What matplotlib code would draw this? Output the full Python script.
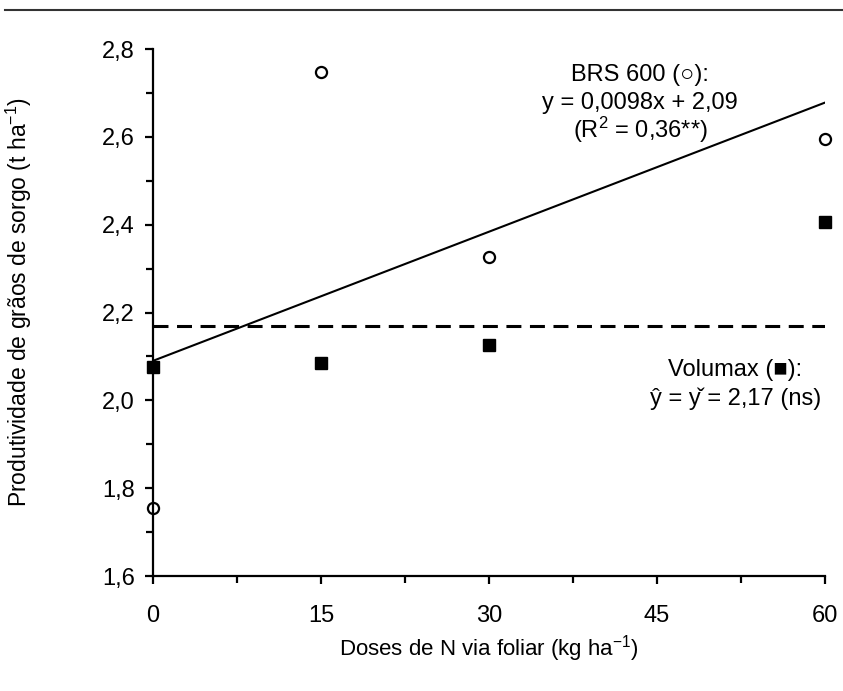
import numpy as np
import matplotlib
matplotlib.use('Agg')
from matplotlib import pyplot as plt
from matplotlib.lines import Line2D
from matplotlib.ticker import MultipleLocator, FuncFormatter

plt.rcParams['font.family'] = ['Liberation Sans', 'DejaVu Sans']
plt.rcParams['mathtext.fontset'] = 'custom'
plt.rcParams['mathtext.rm'] = 'Liberation Sans'
plt.rcParams['mathtext.default'] = 'regular'

doses = [0, 15, 30, 60]
brs600 = [1.755, 2.748, 2.327, 2.595]
volumax = [2.075, 2.086, 2.127, 2.407]
brs_coef = [0.0098, 2.09]
volumax_mean = 2.17

fig = plt.figure(figsize=(8.43, 6.91), dpi=100)
ax = fig.add_axes([0.1815, 0.1664, 0.797, 0.7626])

xl = np.array([0, 60])
ax.plot(xl, brs_coef[0] * xl + brs_coef[1], color='black', lw=1.5)
ax.plot(xl, [volumax_mean, volumax_mean], color='black', lw=2.2, dashes=(4.9, 2.8))
ax.plot(doses, brs600, 'o', mfc='white', mec='black', mew=1.6, ms=8, clip_on=False)
ax.plot(doses, volumax, 's', color='black', ms=9, clip_on=False)

ax.set_xlim(0, 60)
ax.set_ylim(1.6, 2.8)
ax.xaxis.set_major_locator(MultipleLocator(15))
ax.xaxis.set_minor_locator(MultipleLocator(7.5))
ax.yaxis.set_major_locator(MultipleLocator(0.2))
ax.yaxis.set_minor_locator(MultipleLocator(0.1))
ax.yaxis.set_major_formatter(FuncFormatter(lambda v, p: f'{v:.1f}'.replace('.', ',')))
ax.spines['top'].set_visible(False)
ax.spines['right'].set_visible(False)
for s in ['left', 'bottom']:
    ax.spines[s].set_linewidth(1.6)
ax.tick_params(which='both', direction='out', width=1.6, labelsize=17)
ax.tick_params(which='major', length=6)
ax.tick_params(which='minor', length=5)
ax.tick_params(axis='x', pad=15)
ax.tick_params(axis='y', pad=7)

ax.set_xlabel('Doses de N via foliar (kg ha$^{-1}$)', fontsize=16)
ax.set_ylabel('Produtividade de grãos de sorgo (t ha$^{-1}$)', fontsize=16.5)
ax.xaxis.label.set_va('center')
ax.xaxis.set_label_coords(0.5, -0.137)
ax.yaxis.label.set_va('center')
ax.yaxis.set_label_coords(-0.20, 0.52)

fs = 17
ax.text(43.5, 2.74, 'BRS 600 (\u25CB):', ha='center', va='center', fontsize=fs)
ax.text(43.5, 2.677, 'y = 0,0098x + 2,09', ha='center', va='center', fontsize=fs)
ax.text(43.5, 2.615, '(R$^2$ = 0,36**)', ha='center', va='center', fontsize=fs)
ax.text(52.0, 2.07, 'Volumax (\u25A0):', ha='center', va='center', fontsize=fs)
ax.text(52.0, 2.003, '\u0177 = y\u030C = 2,17 (ns)', ha='center', va='center', fontsize=fs)

fig.add_artist(Line2D([5 / 843, 1], [1 - 10 / 691, 1 - 10 / 691], color='#333333', lw=1.5))

fig.savefig('out.png', dpi=100)
